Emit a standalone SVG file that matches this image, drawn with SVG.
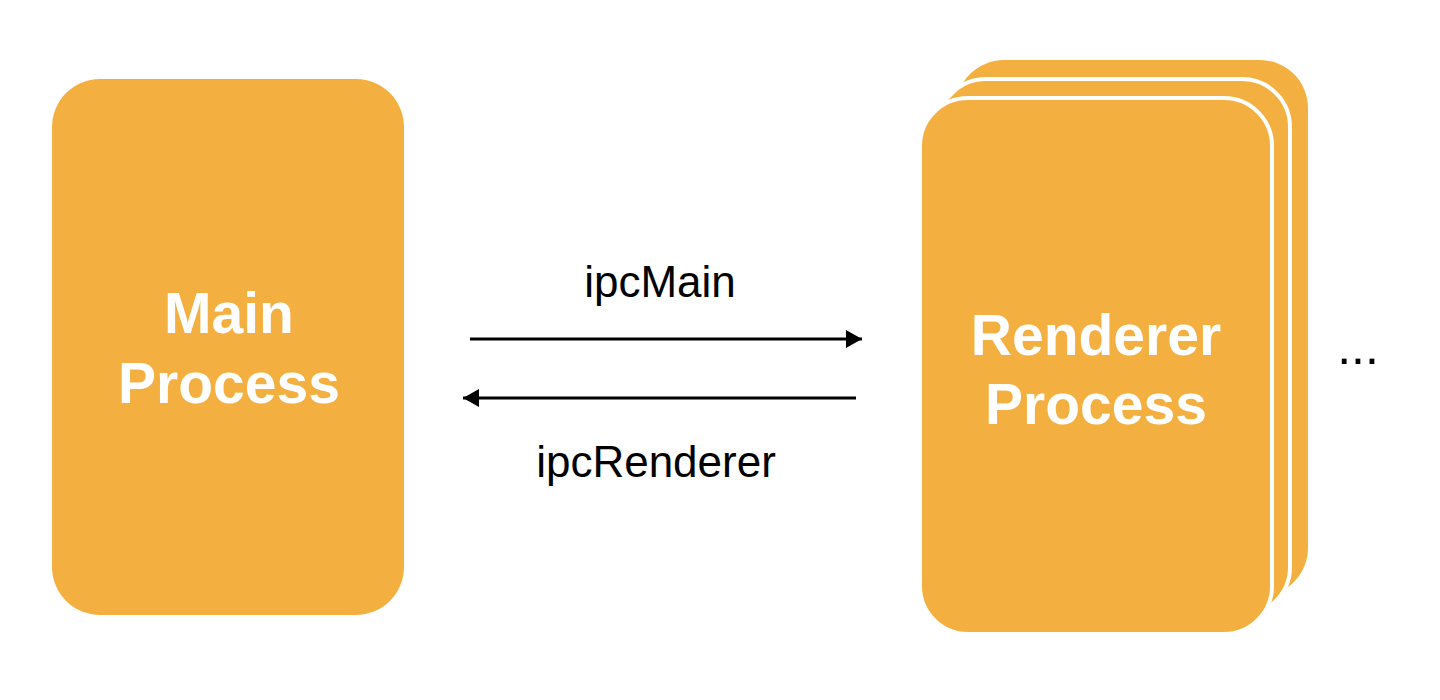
<svg xmlns="http://www.w3.org/2000/svg" width="1440" height="700" viewBox="0 0 1440 700">
  <defs>
    <style>
      .box { fill: #F3B040; }
      .stacked { fill: #F3B040; stroke: #FFFFFF; stroke-width: 4; }
      .title { font-family: "Liberation Sans", Arial, Helvetica, sans-serif; font-weight: bold; font-size: 57px; fill: #FFFFFF; text-anchor: middle; }
      .label { font-family: "Liberation Sans", Arial, Helvetica, sans-serif; font-size: 44px; fill: #000000; text-anchor: middle; }
      .conn { stroke: #000000; stroke-width: 3; fill: none; }
    </style>
    <marker id="arrow" viewBox="0 0 16 18" refX="16" refY="9" markerWidth="16" markerHeight="18" markerUnits="userSpaceOnUse" orient="auto">
      <path d="M0,0 L16,9 L0,18 Z" fill="#000000"/>
    </marker>
  </defs>
  <rect width="1440" height="700" fill="#FFFFFF"/>

  <g id="main-process">
    <rect class="box" x="52" y="79" width="352" height="536" rx="48" ry="48"/>
    <text class="title" x="229" y="333">Main</text>
    <text class="title" x="229" y="403">Process</text>
  </g>

  <g id="renderer-process">
    <rect class="box" x="956" y="60" width="352" height="536" rx="48" ry="48"/>
    <rect class="stacked" x="938" y="79" width="352" height="536" rx="48" ry="48"/>
    <rect class="stacked" x="920" y="98" width="352" height="536" rx="48" ry="48"/>
    <text class="title" x="1096" y="355">Renderer</text>
    <text class="title" x="1096" y="424">Process</text>
  </g>

  <g id="ellipsis">
    <text class="label" x="1358" y="364" style="font-size:50px">...</text>
  </g>

  <g id="connectors">
    <line class="conn" x1="470" y1="339" x2="862" y2="339" marker-end="url(#arrow)"/>
    <line class="conn" x1="856" y1="398" x2="463" y2="398" marker-end="url(#arrow)"/>
    <text class="label" x="660" y="297">ipcMain</text>
    <text class="label" x="656" y="477">ipcRenderer</text>
  </g>
</svg>
